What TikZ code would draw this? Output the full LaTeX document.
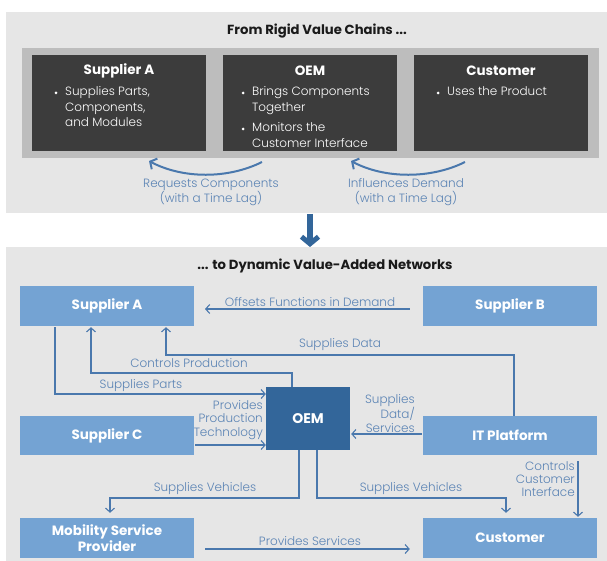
\documentclass[tikz,border=0pt]{standalone}
\usepackage{fontspec}
\setmainfont{Poppins}
\newfontfamily\lightfont{Poppins Light}
\newfontfamily\heavyfont{Poppins Bold}
\usetikzlibrary{arrows.meta,calc}
\definecolor{panel}{HTML}{E6E6E6}
\definecolor{frame}{HTML}{BDBDBD}
\definecolor{darkbox}{HTML}{3C3C3C}
\definecolor{lightblue}{HTML}{74A3D3}
\definecolor{oemblue}{HTML}{33669A}
\definecolor{linecol}{HTML}{4A78AD}
\definecolor{labcol}{HTML}{5A83B4}
\definecolor{titlecol}{HTML}{1A1A1A}
\newcommand{\linesT}[1]{\begin{tabular}[t]{@{}l@{}}#1\end{tabular}}
\tikzset{
  panelbox/.style={fill=panel, draw=none},
  darkrect/.style={fill=darkbox, draw=none, minimum width=174pt, minimum height=96pt, inner sep=0pt},
  bluebox/.style={fill=lightblue, draw=none, minimum width=174pt, minimum height=40pt, inner sep=0pt, text=white, font=\heavyfont\fontsize{13.5}{16}\selectfont, align=center},
  oembox/.style={fill=oemblue, draw=none, minimum width=84pt, minimum height=63pt, inner sep=0pt, text=white, font=\heavyfont\fontsize{14}{16}\selectfont},
  paneltitle/.style={font=\heavyfont\fontsize{13.2}{15}\selectfont, text=titlecol, inner sep=0pt},
  darktitle/.style={font=\heavyfont\fontsize{13.5}{16}\selectfont, text=white, inner sep=0pt},
  bullettext/.style={font=\lightfont\fontsize{12}{15.5}\selectfont, text=white, inner sep=0pt, anchor=base west},
  bulletdot/.style={circle, fill=white, inner sep=0pt, minimum size=3pt},
  conn/.style={draw=linecol, line width=1.1pt, -{Straight Barb[length=4pt,width=9pt,line width=1.1pt]}},
  curvearrow/.style={draw=linecol, line width=2pt, -{Straight Barb[length=5pt,width=12pt,line width=2pt]}},
  lab/.style={font=\lightfont\fontsize{12}{13.5}\selectfont, text=labcol, inner sep=0pt},
}
\begin{document}
\begin{tikzpicture}[x=1pt,y=-1pt]
\useasboundingbox (0,0) rectangle (607,561);
% ---------- top panel ----------
\path[panelbox] (6,12) rectangle (607,213);
\node[paneltitle] (ttop) at (317,31) {From Rigid Value Chains ...};
\path[fill=frame] (22,48) rectangle (599,158);
\node[darkrect] (dA) at (119,103) {};
\node[darkrect] (dO) at (310,103) {};
\node[darkrect] (dC) at (501,103) {};
\node[darktitle] (dAt) at (119,71) {Supplier A};
\node[darktitle] (dOt) at (310,71) {OEM};
\node[darktitle] (dCt) at (501,71) {Customer};
% bullets
\node[bulletdot] (bA) at (56,93) {};
\node[bullettext] (tA) at (65,96) {\linesT{Supplies Parts,\\Components,\\and Modules}};
\node[bulletdot] (bO1) at (243,93) {};
\node[bullettext] (tO1) at (252,96) {\linesT{Brings Components\\Together}};
\node[bulletdot] (bO2) at (243,129) {};
\node[bullettext] (tO2) at (252,132) {\linesT{Monitors the\\Customer Interface}};
\node[bulletdot] (bC) at (438,93) {};
\node[bullettext] (tC) at (447,96) {Uses the Product};
% curved arrows
\coordinate (c1s) at (262,162);
\coordinate (c1e) at (149,161);
\coordinate (c2s) at (465,162);
\coordinate (c2e) at (351,161);
\draw[curvearrow] (c1s) .. controls (228,179) and (183,179) .. (c1e);
\draw[curvearrow] (c2s) .. controls (431,179) and (385,179) .. (c2e);
\node[lab, align=center, font=\lightfont\fontsize{12}{15}\selectfont] (l1) at (211,192.5) {Requests Components\\(with a Time Lag)};
\node[lab, align=center, font=\lightfont\fontsize{12}{15}\selectfont] (l2) at (406,192.5) {Influences Demand\\(with a Time Lag)};
% big arrow
\coordinate (bs) at (310,214);
\coordinate (be) at (310,247);
\draw[draw=oemblue, line width=5.5pt, -{Straight Barb[length=7pt,width=17pt,line width=5pt]}] (bs) -- (be);
% ---------- bottom panel ----------
\path[panelbox] (6,247) rectangle (607,561);
\node[paneltitle] (tbot) at (325,266) {... to Dynamic Value-Added Networks};
\node[bluebox] (supA) at (107,306) {Supplier A};
\node[bluebox] (supB) at (510,306) {Supplier B};
\node[bluebox, minimum height=39pt] (supC) at (107,435.5) {Supplier C};
\node[bluebox, minimum height=39pt] (itp) at (510,435.5) {IT Platform};
\node[bluebox] (msp) at (107,538) {Mobility Service\\Provider};
\node[bluebox] (cust) at (510,538) {Customer};
\node[oembox] (oem) at (308,418.5) {OEM};
% connectors
\draw[conn] ([yshift=-3pt]supB.west) ++(-13,0) coordinate (o1) -- (o1 -| 205,0);
\node[lab] (lo) at (310,302) {Offsets Functions in Demand};

\draw[conn] ([xshift=4pt]itp.north) |- (166,355) -- ([yshift=-1pt]supA.south -| 166,0);
\node[lab] (lsd) at (340,345) {Supplies Data};

\draw[conn] (oem.north -| 292,0) |- (91,373) -- ([yshift=-1pt]supA.south -| 91,0);
\node[lab] (lcp) at (189,363) {Controls Production};

\draw[conn] ([yshift=-1pt]supA.south -| 55,0) |- (oem.west |- 0,394);
\node[lab] (lsp) at (141,386) {Supplies Parts};

\draw[conn] ([xshift=1pt]supC.east |- 0,445) -- (oem.west |- 0,445);
\node[lab, align=right, anchor=east, font=\lightfont\fontsize{12}{13.8}\selectfont] (lpt) at (263,420) {Provides\\Production\\Technology};

\draw[conn] ([xshift=-1pt]itp.west |- 0,434) -- ([xshift=1pt]oem.east |- 0,434);
\node[lab, align=right, anchor=east, font=\lightfont\fontsize{12}{13.5}\selectfont] (lds) at (415,413.5) {Supplies\\Data/\\Services};

\draw[conn] (oem.south -| 299,0) |- (110,498) -- ([yshift=5pt]msp.north -| 110,0);
\node[lab] (lsv1) at (205,489) {Supplies Vehicles};

\draw[conn] (oem.south -| 317,0) |- (506,498) -- ([yshift=5pt]cust.north -| 506,0);
\node[lab] (lsv2) at (411,489) {Supplies Vehicles};

\draw[conn] ([yshift=-6pt]itp.south -| 578,0) -- ([yshift=1pt]cust.north -| 578,0);
\node[lab, align=right, anchor=east, font=\lightfont\fontsize{12}{13}\selectfont] (lcci) at (575,479) {Controls\\Customer\\Interface};

\draw[conn] ([xshift=11pt]msp.east |- 0,549) -- ([xshift=-13pt]cust.west |- 0,549);
\node[lab] (lps) at (310,541) {Provides Services};
\end{tikzpicture}
\end{document}
